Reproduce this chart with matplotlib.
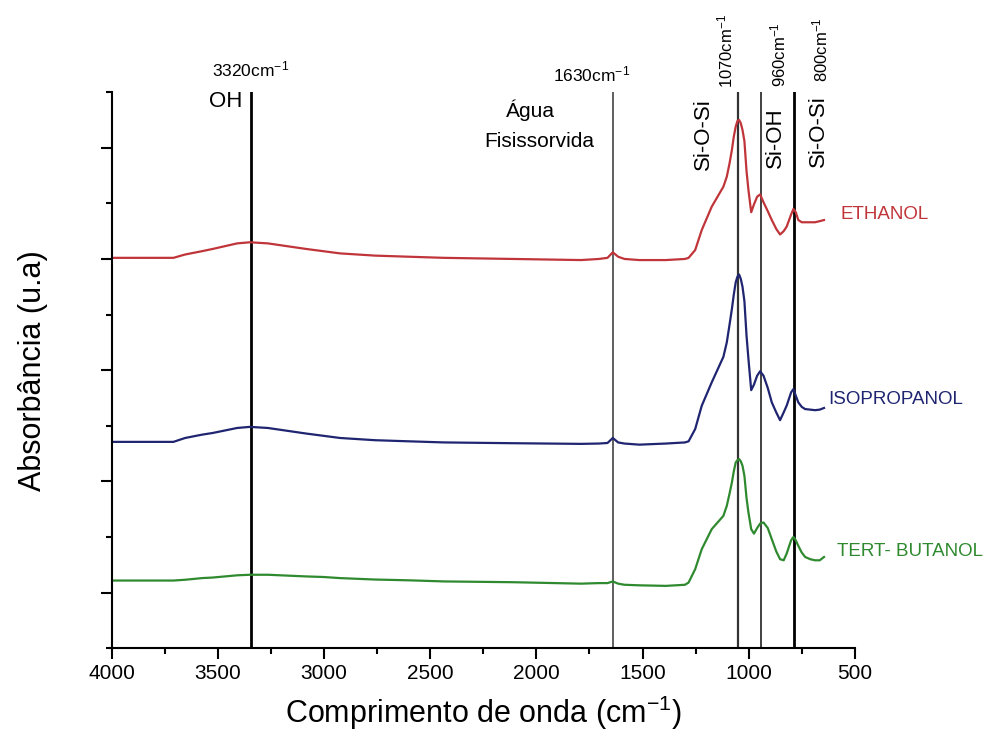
import matplotlib
matplotlib.use("Agg")
import matplotlib.pyplot as plt
from matplotlib.ticker import MultipleLocator

plt.rcParams['font.family'] = ['Liberation Sans', 'DejaVu Sans']
plt.rcParams['mathtext.fontset'] = 'custom'
plt.rcParams['mathtext.rm'] = 'Liberation Sans'
plt.rcParams['mathtext.it'] = 'Liberation Sans'

# wavenumber grid (cm-1)
wavenumber = [4000, 3710, 3655, 3575, 3525, 3410, 3350, 3265, 3085, 3005,
              2925, 2760, 2600, 2435, 2110, 1790, 1705, 1665, 1640, 1615,
              1585, 1515, 1390, 1300, 1283, 1252, 1221, 1174, 1119, 1103,
              1090, 1079, 1070, 1061, 1053, 1045, 1037, 1029, 1020, 1010,
              1001, 988, 975, 960, 946, 930, 910, 891, 870, 852,
              835, 821, 800, 789, 778, 766, 750, 734, 710, 687,
              665, 645]

ethanol = [3.01, 3.01, 3.04, 3.07, 3.09, 3.14, 3.15, 3.14, 3.09, 3.07,
           3.05, 3.03, 3.02, 3.01, 3.00, 2.99, 3.00, 3.01, 3.06, 3.02,
           3.00, 2.99, 2.99, 3.00, 3.01, 3.08, 3.26, 3.47, 3.65, 3.74,
           3.86, 3.98, 4.10, 4.19, 4.24, 4.25, 4.22, 4.16, 4.06, 3.79,
           3.62, 3.42, 3.49, 3.56, 3.58, 3.51, 3.43, 3.35, 3.27, 3.22,
           3.25, 3.29, 3.40, 3.45, 3.42, 3.35, 3.33, 3.33, 3.33, 3.33,
           3.34, 3.35]

isopropanol = [1.355, 1.355, 1.39, 1.42, 1.435, 1.48, 1.49, 1.48, 1.43, 1.41,
               1.39, 1.37, 1.36, 1.35, 1.343, 1.337, 1.34, 1.345, 1.39, 1.35,
               1.34, 1.33, 1.34, 1.35, 1.36, 1.47, 1.68, 1.89, 2.12, 2.25,
               2.41, 2.55, 2.68, 2.79, 2.84, 2.86, 2.82, 2.75, 2.62, 2.31,
               2.10, 1.82, 1.87, 1.95, 1.99, 1.95, 1.84, 1.71, 1.62, 1.55,
               1.62, 1.68, 1.80, 1.83, 1.77, 1.71, 1.67, 1.65, 1.645, 1.64,
               1.645, 1.66]

tert_butanol = [0.108, 0.108, 0.115, 0.13, 0.135, 0.155, 0.16, 0.16, 0.145, 0.14,
                0.13, 0.117, 0.11, 0.10, 0.093, 0.08, 0.085, 0.085, 0.10, 0.08,
                0.07, 0.065, 0.06, 0.07, 0.09, 0.21, 0.39, 0.57, 0.69, 0.78,
                0.89, 0.99, 1.09, 1.17, 1.19, 1.20, 1.18, 1.14, 1.05, 0.85,
                0.72, 0.57, 0.53, 0.58, 0.62, 0.63, 0.58, 0.48, 0.37, 0.30,
                0.29, 0.35, 0.47, 0.50, 0.47, 0.42, 0.36, 0.32, 0.30, 0.29,
                0.29, 0.32]

# band positions marked by vertical lines
bands = [3345, 1640, 1048, 944, 786]
band_widths = [2.0, 1.2, 1.6, 1.3, 2.0]
band_colors = ['black', '#444444', '#333333', '#333333', 'black']

red = '#c0353a'
navy = '#1f2570'
green = '#2f8a2f'

fig = plt.figure(figsize=(10.08, 7.45), dpi=100)
ax = fig.add_axes([0.111, 0.130, 0.737, 0.7463])

for b, lw, c in zip(bands, band_widths, band_colors):
    ax.axvline(b, color=c, lw=lw, zorder=1)

ax.plot(wavenumber, ethanol, color=red, lw=1.6, zorder=2)
ax.plot(wavenumber, isopropanol, color=navy, lw=1.6, zorder=2)
ax.plot(wavenumber, tert_butanol, color=green, lw=1.6, zorder=2)

ax.set_xlim(4000, 500)
ax.set_ylim(-0.5, 4.5)

ax.spines['top'].set_visible(False)
ax.spines['right'].set_visible(False)
ax.spines['left'].set_linewidth(1.5)
ax.spines['bottom'].set_linewidth(1.5)

ax.xaxis.set_major_locator(MultipleLocator(500))
ax.xaxis.set_minor_locator(MultipleLocator(250))
ax.yaxis.set_major_locator(MultipleLocator(1))
ax.yaxis.set_minor_locator(MultipleLocator(0.5))
ax.tick_params(axis='both', which='major', direction='out', length=8, width=1.5, labelsize=15)
ax.tick_params(axis='both', which='minor', direction='out', length=4, width=1.5)
ax.tick_params(axis='y', labelleft=False)

ax.set_xlabel('Comprimento de onda (cm$^{-1}$)', fontsize=22)
ax.set_ylabel('Absorbância (u.a)', fontsize=22)
ax.xaxis.set_label_coords(0.5, -0.082)
ax.yaxis.set_label_coords(-0.086, 0.5)

# annotations
kw = dict(fontsize=15, clip_on=False)
rk = dict(fontsize=16, rotation=90, ha='center', va='center', clip_on=False)
sk = dict(fontsize=12, rotation=90, ha='center', va='center', clip_on=False)
ax.text(3345, 4.70, '3320cm$^{-1}$', ha='center', va='center', fontsize=12.5, clip_on=False)
ax.text(3387, 4.42, 'OH', ha='right', va='center', fontsize=16, clip_on=False)
ax.text(1740, 4.66, '1630cm$^{-1}$', ha='center', va='center', fontsize=12.5, clip_on=False)
ax.text(2028, 4.34, 'Água', ha='center', va='center', **kw)
ax.text(1986, 4.06, 'Fisissorvida', ha='center', va='center', **kw)
ax.text(1213, 4.12, 'Si-O-Si', **rk)
ax.text(1110, 4.87, '1070cm$^{-1}$', **sk)
ax.text(875, 4.09, 'Si-OH', **rk)
ax.text(860, 4.84, '960cm$^{-1}$', **sk)
ax.text(671, 4.15, 'Si-O-Si', **rk)
ax.text(663, 4.88, '800cm$^{-1}$', **sk)

ax.text(565, 3.40, 'ETHANOL', color=red, ha='left', va='center', fontsize=13.5, clip_on=False)
ax.text(624, 1.74, 'ISOPROPANOL', color=navy, ha='left', va='center', fontsize=13.5, clip_on=False)
ax.text(585, 0.37, 'TERT- BUTANOL', color=green, ha='left', va='center', fontsize=13.5, clip_on=False)

fig.savefig('out.png', dpi=100)
